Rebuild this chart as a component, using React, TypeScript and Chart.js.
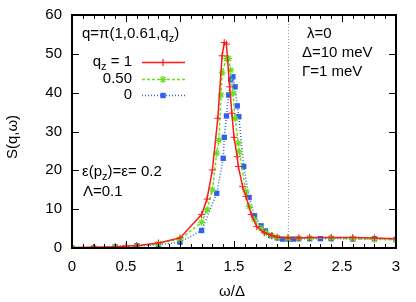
import React, { useEffect, useRef } from "react";
import { Chart, registerables } from "chart.js";
Chart.register(...registerables);

// qz = 1 (red)
const xRed = [0, 0.2, 0.4, 0.5, 0.6, 0.8, 1.0, 1.2, 1.25, 1.3, 1.35, 1.39, 1.41, 1.43, 1.46, 1.48, 1.5, 1.53, 1.54, 1.58, 1.61, 1.66, 1.71, 1.78, 1.85, 1.9, 2.0, 2.1, 2.2, 2.4, 2.6, 2.8, 3.0];
const yRed = [0.1, 0.2, 0.3, 0.5, 0.6, 1.3, 2.6, 8.6, 12.6, 20.1, 33.4, 49.5, 52.9, 52.5, 41.5, 34.7, 28.5, 23.5, 21.0, 15.8, 13.3, 8.6, 5.5, 3.9, 3.2, 2.8, 2.6, 2.6, 2.7, 2.7, 2.7, 2.6, 2.4];
// qz = 0.50 (green)
const xGreen = [0, 0.2, 0.4, 0.6, 0.8, 1.0, 1.2, 1.25, 1.3, 1.34, 1.36, 1.38, 1.39, 1.43, 1.45, 1.47, 1.49, 1.51, 1.54, 1.55, 1.61, 1.64, 1.69, 1.75, 1.8, 1.85, 1.9, 2.0, 2.1, 2.2, 2.4, 2.6, 2.8, 3.0];
const yGreen = [0.1, 0.1, 0.3, 0.5, 1.1, 2.3, 6.6, 9.8, 15.0, 24.4, 27.8, 39.4, 45.1, 48.8, 48.8, 45.8, 39.8, 33.4, 27.0, 24.8, 14.5, 10.7, 7.3, 5.0, 3.9, 3.1, 2.7, 2.5, 2.5, 2.6, 2.6, 2.4, 2.2, 2.1];
// qz = 0 (blue)
const xBlue = [0, 0.2, 0.4, 0.6, 0.8, 1.0, 1.2, 1.34, 1.4, 1.41, 1.43, 1.45, 1.47, 1.49, 1.51, 1.53, 1.545, 1.59, 1.64, 1.69, 1.75, 1.79, 1.84, 1.9, 1.95, 2.0, 2.05, 2.1, 2.2, 2.3, 2.4, 2.6, 2.8, 3.0];
const yBlue = [0.0, 0.0, 0.3, 0.6, 0.8, 1.5, 4.5, 14.1, 23.1, 28.5, 34.0, 39.4, 43.3, 44.1, 41.5, 36.6, 33.8, 21.0, 13.0, 8.3, 5.7, 4.4, 3.2, 2.6, 2.3, 2.3, 2.3, 2.4, 2.4, 2.4, 2.4, 2.3, 2.4, 2.2];

const xTicks = [0, 0.5, 1, 1.5, 2, 2.5, 3];
const xTickLabels = ["0", "0.5", "1", "1.5", "2", "2.5", "3"];
const xMinorTicks = [0.1, 0.2, 0.3, 0.4, 0.6, 0.7, 0.8, 0.9, 1.1, 1.2, 1.3, 1.4, 1.6, 1.7, 1.8, 1.9, 2.1, 2.2, 2.3, 2.4, 2.6, 2.7, 2.8, 2.9];
const yTicks = [0, 10, 20, 30, 40, 50, 60];
const yTickLabels = ["0", "10", "20", "30", "40", "50", "60"];
const legendLabels = ["1", "0.50", "0"];

const RED = "#ff1a1a";
const GREEN = "#66e01c";
const BLUE = "#2e62ee";
const FONT = "'Liberation Sans', Arial, sans-serif";

function pts(xs: number[], ys: number[]) {
  return xs.map((x, i) => ({ x, y: ys[i] }));
}

function marker(ctx: CanvasRenderingContext2D, style: string, color: string, x: number, y: number) {
  ctx.save();
  ctx.setLineDash([]);
  ctx.strokeStyle = color;
  ctx.fillStyle = color;
  ctx.lineWidth = 1.2;
  if (style === "cross") {
    ctx.beginPath();
    ctx.moveTo(x - 3.5, y); ctx.lineTo(x + 3.5, y);
    ctx.moveTo(x, y - 3.5); ctx.lineTo(x, y + 3.5);
    ctx.stroke();
  } else if (style === "star") {
    ctx.beginPath();
    ctx.moveTo(x - 3.5, y); ctx.lineTo(x + 3.5, y);
    ctx.moveTo(x, y - 3.5); ctx.lineTo(x, y + 3.5);
    ctx.moveTo(x - 2.5, y - 2.5); ctx.lineTo(x + 2.5, y + 2.5);
    ctx.moveTo(x - 2.5, y + 2.5); ctx.lineTo(x + 2.5, y - 2.5);
    ctx.stroke();
  } else {
    ctx.fillRect(x - 2.7, y - 2.7, 5.4, 5.4);
  }
  ctx.restore();
}

const overlay = {
  id: "overlay",
  beforeDatasetsDraw(chart: any) {
    const ctx = chart.ctx;
    const ca = chart.chartArea;
    const xs = chart.scales.x;
    ctx.save();
    ctx.strokeStyle = "#999";
    ctx.lineWidth = 1;
    ctx.setLineDash([1, 2]);
    const px = Math.round(xs.getPixelForValue(2)) + 0.5;
    ctx.beginPath();
    ctx.moveTo(px, ca.top);
    ctx.lineTo(px, ca.bottom);
    ctx.stroke();
    ctx.restore();
  },
  afterDraw(chart: any) {
    const ctx = chart.ctx;
    const ca = chart.chartArea;
    const xs = chart.scales.x;
    const ys = chart.scales.y;
    ctx.save();
    ctx.strokeStyle = "#000";
    ctx.fillStyle = "#000";
    ctx.lineWidth = 1;
    // ticks
    ctx.beginPath();
    xTicks.forEach((v) => {
      const p = Math.round(xs.getPixelForValue(v)) + 0.5;
      ctx.moveTo(p, ca.bottom); ctx.lineTo(p, ca.bottom - 7);
      ctx.moveTo(p, ca.top); ctx.lineTo(p, ca.top + 7);
    });
    xMinorTicks.forEach((v) => {
      const p = Math.round(xs.getPixelForValue(v)) + 0.5;
      ctx.moveTo(p, ca.bottom); ctx.lineTo(p, ca.bottom - 4);
      ctx.moveTo(p, ca.top); ctx.lineTo(p, ca.top + 4);
    });
    yTicks.forEach((v) => {
      const p = Math.round(ys.getPixelForValue(v)) + 0.5;
      ctx.moveTo(ca.left, p); ctx.lineTo(ca.left + 7, p);
      ctx.moveTo(ca.right, p); ctx.lineTo(ca.right - 7, p);
    });
    ctx.stroke();
    // border
    ctx.lineWidth = 2;
    ctx.strokeRect(ca.left, ca.top, ca.right - ca.left, ca.bottom - ca.top);

    // tick labels
    ctx.font = `15px ${FONT}`;
    ctx.textBaseline = "middle";
    ctx.textAlign = "center";
    xTicks.forEach((v, i) => {
      ctx.fillText(xTickLabels[i], xs.getPixelForValue(v), ca.bottom + 19);
    });
    ctx.textAlign = "right";
    yTicks.forEach((v, i) => {
      ctx.fillText(yTickLabels[i], ca.left - 10, ys.getPixelForValue(v));
    });

    // axis titles
    ctx.textAlign = "center";
    ctx.fillText("ω/Δ", 232, 292);
    ctx.save();
    ctx.translate(13, 137);
    ctx.rotate(-Math.PI / 2);
    ctx.fillText("S(q,ω)", 0, 0);
    ctx.restore();

    // annotations
    ctx.textAlign = "left";
    const sub = (base: string, s: string, rest: string, x: number, y: number) => {
      ctx.font = `15px ${FONT}`;
      ctx.fillText(base, x, y);
      let w = ctx.measureText(base).width;
      ctx.font = `11px ${FONT}`;
      ctx.fillText(s, x + w, y + 5);
      w += ctx.measureText(s).width;
      ctx.font = `15px ${FONT}`;
      ctx.fillText(rest, x + w, y);
    };
    sub("q=π(1,0.61,q", "z", ")", 82, 34);
    sub("ε(p", "z", ")=ε= 0.2", 82, 172);
    ctx.font = `15px ${FONT}`;
    ctx.fillText("Λ=0.1", 83, 192);
    ctx.fillText("λ=0", 307, 34);
    ctx.fillText("Δ=10 meV", 302, 53);
    ctx.fillText("Γ=1 meV", 302, 72);

    // legend
    const rows = [62, 79, 95];
    {
      const y = rows[0];
      const rest = " = " + legendLabels[0];
      ctx.font = `15px ${FONT}`;
      const wRest = ctx.measureText(rest).width;
      const wQ = ctx.measureText("q").width;
      ctx.font = `11px ${FONT}`;
      const wZ = ctx.measureText("z").width;
      const right = 132;
      ctx.textAlign = "left";
      sub("q", "z", rest, right - wRest - wZ - wQ, y);
    }
    ctx.textAlign = "right";
    ctx.font = `15px ${FONT}`;
    ctx.fillText(legendLabels[1], 132, rows[1]);
    ctx.fillText(legendLabels[2], 132, rows[2]);
    chart.data.datasets.forEach((ds: any, i: number) => {
      const y = rows[i] + 0.5;
      ctx.save();
      ctx.strokeStyle = ds.borderColor;
      ctx.lineWidth = ds.borderWidth;
      ctx.setLineDash(ds.borderDash || []);
      ctx.beginPath();
      ctx.moveTo(142, y);
      ctx.lineTo(185, y);
      ctx.stroke();
      ctx.restore();
      marker(ctx, ds.pointStyle, ds.pointBackgroundColor, 163, y);
    });
    ctx.restore();
  },
};

export default function App() {
  const ref = useRef<HTMLCanvasElement>(null);
  useEffect(() => {
    document.body.style.margin = "0";
    const chart = new Chart(ref.current!, {
      type: "scatter",
      data: {
        datasets: [
          {
            label: "1",
            data: pts(xRed, yRed),
            showLine: true,
            borderColor: RED,
            borderWidth: 1.5,
            pointStyle: "cross",
            pointRadius: 3.5,
            pointBorderWidth: 1,
            pointBorderColor: RED,
            pointBackgroundColor: RED,
          },
          {
            label: "0.50",
            data: pts(xGreen, yGreen),
            showLine: true,
            borderColor: GREEN,
            borderWidth: 1.5,
            borderDash: [3, 2],
            pointStyle: "star",
            pointRadius: 3.5,
            pointBorderWidth: 1.2,
            pointBorderColor: GREEN,
            pointBackgroundColor: GREEN,
          },
          {
            label: "0",
            data: pts(xBlue, yBlue),
            showLine: true,
            borderColor: BLUE,
            borderWidth: 1.5,
            borderDash: [1, 2],
            pointStyle: "rect",
            pointRadius: 3.8,
            pointBorderWidth: 0,
            pointBorderColor: BLUE,
            pointBackgroundColor: BLUE,
          },
        ] as any,
      },
      options: {
        animation: false,
        responsive: false,
        layout: { padding: { left: 72, top: 15, right: 20, bottom: 54 } },
        plugins: { legend: { display: false }, tooltip: { enabled: false } },
        scales: {
          x: { type: "linear", min: 0, max: 3, display: false },
          y: { type: "linear", min: 0, max: 60, display: false },
        },
      },
      plugins: [overlay],
    });
    return () => chart.destroy();
  }, []);
  return (
    <div style={{ width: 416, height: 302, background: "#fff" }}>
      <canvas ref={ref} width={416} height={302} />
    </div>
  );
}
